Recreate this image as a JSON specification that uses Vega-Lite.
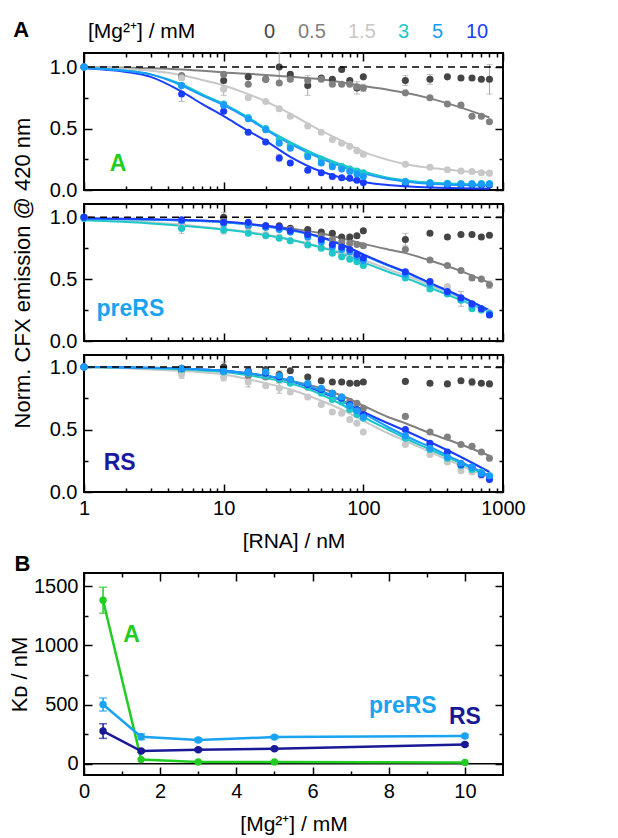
{
 "$schema": "https://vega.github.io/schema/vega-lite/v6.json",
 "padding": {"left": 7, "top": 19, "right": 5, "bottom": 2},
 "datasets": {
  "pts": [
   {"p":"A","m":"0","x":1,"y":1},{"p":"A","m":"0","x":5,"y":0.92},{"p":"A","m":"0","x":10,"y":0.89},{"p":"A","m":"0","x":15,"y":0.92},{"p":"A","m":"0","x":20,"y":0.9},{"p":"A","m":"0","x":25,"y":1.0,"e":0.12},{"p":"A","m":"0","x":30,"y":0.94},{"p":"A","m":"0","x":40,"y":0.85,"e":0.08},{"p":"A","m":"0","x":50,"y":0.91},{"p":"A","m":"0","x":60,"y":0.9},{"p":"A","m":"0","x":70,"y":0.98},{"p":"A","m":"0","x":80,"y":0.89},{"p":"A","m":"0","x":90,"y":0.83,"e":0.05},{"p":"A","m":"0","x":100,"y":0.92},{"p":"A","m":"0","x":200,"y":0.89,"e":0.04},{"p":"A","m":"0","x":300,"y":0.9,"e":0.04},{"p":"A","m":"0","x":400,"y":0.92},{"p":"A","m":"0","x":500,"y":0.91},{"p":"A","m":"0","x":600,"y":0.91},{"p":"A","m":"0","x":700,"y":0.9},{"p":"A","m":"0","x":800,"y":0.9,"e":0.12},
   {"p":"A","m":"0.5","x":1,"y":1},{"p":"A","m":"0.5","x":5,"y":0.93},{"p":"A","m":"0.5","x":10,"y":0.94},{"p":"A","m":"0.5","x":15,"y":0.86},{"p":"A","m":"0.5","x":20,"y":0.9},{"p":"A","m":"0.5","x":25,"y":0.87},{"p":"A","m":"0.5","x":30,"y":0.9},{"p":"A","m":"0.5","x":40,"y":0.89},{"p":"A","m":"0.5","x":50,"y":0.9},{"p":"A","m":"0.5","x":60,"y":0.86},{"p":"A","m":"0.5","x":70,"y":0.86},{"p":"A","m":"0.5","x":80,"y":0.86},{"p":"A","m":"0.5","x":90,"y":0.84},{"p":"A","m":"0.5","x":100,"y":0.83,"e":0.03},{"p":"A","m":"0.5","x":200,"y":0.79},{"p":"A","m":"0.5","x":300,"y":0.75},{"p":"A","m":"0.5","x":400,"y":0.7},{"p":"A","m":"0.5","x":500,"y":0.69},{"p":"A","m":"0.5","x":600,"y":0.6},{"p":"A","m":"0.5","x":700,"y":0.6},{"p":"A","m":"0.5","x":800,"y":0.555},
   {"p":"A","m":"1.5","x":1,"y":1},{"p":"A","m":"1.5","x":5,"y":0.91},{"p":"A","m":"1.5","x":10,"y":0.82,"e":0.05},{"p":"A","m":"1.5","x":15,"y":0.75},{"p":"A","m":"1.5","x":20,"y":0.72},{"p":"A","m":"1.5","x":25,"y":0.66},{"p":"A","m":"1.5","x":30,"y":0.6},{"p":"A","m":"1.5","x":40,"y":0.52},{"p":"A","m":"1.5","x":50,"y":0.47},{"p":"A","m":"1.5","x":60,"y":0.41},{"p":"A","m":"1.5","x":70,"y":0.38},{"p":"A","m":"1.5","x":80,"y":0.355},{"p":"A","m":"1.5","x":90,"y":0.32},{"p":"A","m":"1.5","x":100,"y":0.29},{"p":"A","m":"1.5","x":200,"y":0.21},{"p":"A","m":"1.5","x":300,"y":0.185},{"p":"A","m":"1.5","x":400,"y":0.165},{"p":"A","m":"1.5","x":500,"y":0.155},{"p":"A","m":"1.5","x":600,"y":0.15},{"p":"A","m":"1.5","x":700,"y":0.14},{"p":"A","m":"1.5","x":800,"y":0.137},
   {"p":"A","m":"10","x":1,"y":1},{"p":"A","m":"10","x":5,"y":0.78,"e":0.06},{"p":"A","m":"10","x":10,"y":0.64},{"p":"A","m":"10","x":15,"y":0.47},{"p":"A","m":"10","x":20,"y":0.39},{"p":"A","m":"10","x":25,"y":0.26,"e":0.03},{"p":"A","m":"10","x":30,"y":0.22},{"p":"A","m":"10","x":40,"y":0.16},{"p":"A","m":"10","x":50,"y":0.14},{"p":"A","m":"10","x":60,"y":0.11},{"p":"A","m":"10","x":70,"y":0.1},{"p":"A","m":"10","x":80,"y":0.095},{"p":"A","m":"10","x":90,"y":0.08},{"p":"A","m":"10","x":100,"y":0.06},{"p":"A","m":"10","x":200,"y":0.05},{"p":"A","m":"10","x":300,"y":0.04},{"p":"A","m":"10","x":400,"y":0.04},{"p":"A","m":"10","x":500,"y":0.04},{"p":"A","m":"10","x":600,"y":0.04},{"p":"A","m":"10","x":700,"y":0.04},{"p":"A","m":"10","x":800,"y":0.04},
   {"p":"A","m":"3","x":1,"y":1},{"p":"A","m":"3","x":5,"y":0.85},{"p":"A","m":"3","x":10,"y":0.7},{"p":"A","m":"3","x":15,"y":0.59},{"p":"A","m":"3","x":20,"y":0.5},{"p":"A","m":"3","x":25,"y":0.41},{"p":"A","m":"3","x":30,"y":0.36},{"p":"A","m":"3","x":40,"y":0.29},{"p":"A","m":"3","x":50,"y":0.25},{"p":"A","m":"3","x":60,"y":0.21},{"p":"A","m":"3","x":70,"y":0.19},{"p":"A","m":"3","x":80,"y":0.17},{"p":"A","m":"3","x":90,"y":0.155},{"p":"A","m":"3","x":100,"y":0.14},{"p":"A","m":"3","x":200,"y":0.07},{"p":"A","m":"3","x":300,"y":0.06},{"p":"A","m":"3","x":400,"y":0.055},{"p":"A","m":"3","x":500,"y":0.05},{"p":"A","m":"3","x":600,"y":0.05},{"p":"A","m":"3","x":700,"y":0.05},{"p":"A","m":"3","x":800,"y":0.05},
   {"p":"A","m":"5","x":1,"y":1},{"p":"A","m":"5","x":5,"y":0.85},{"p":"A","m":"5","x":10,"y":0.69},{"p":"A","m":"5","x":15,"y":0.58},{"p":"A","m":"5","x":20,"y":0.49},{"p":"A","m":"5","x":25,"y":0.38},{"p":"A","m":"5","x":30,"y":0.34},{"p":"A","m":"5","x":40,"y":0.27},{"p":"A","m":"5","x":50,"y":0.22},{"p":"A","m":"5","x":60,"y":0.19},{"p":"A","m":"5","x":70,"y":0.17},{"p":"A","m":"5","x":80,"y":0.15},{"p":"A","m":"5","x":90,"y":0.13},{"p":"A","m":"5","x":100,"y":0.11},{"p":"A","m":"5","x":200,"y":0.065},{"p":"A","m":"5","x":300,"y":0.055},{"p":"A","m":"5","x":400,"y":0.05},{"p":"A","m":"5","x":500,"y":0.05},{"p":"A","m":"5","x":600,"y":0.05},{"p":"A","m":"5","x":700,"y":0.05},{"p":"A","m":"5","x":800,"y":0.05},

   {"p":"P","m":"0","x":1,"y":1},{"p":"P","m":"0","x":5,"y":0.92,"e":0.05},{"p":"P","m":"0","x":10,"y":1.0,"e":0.04},{"p":"P","m":"0","x":15,"y":0.95},{"p":"P","m":"0","x":20,"y":0.93},{"p":"P","m":"0","x":25,"y":0.93},{"p":"P","m":"0","x":30,"y":0.91},{"p":"P","m":"0","x":40,"y":0.9},{"p":"P","m":"0","x":50,"y":0.88},{"p":"P","m":"0","x":60,"y":0.87},{"p":"P","m":"0","x":70,"y":0.84},{"p":"P","m":"0","x":80,"y":0.84},{"p":"P","m":"0","x":90,"y":0.85},{"p":"P","m":"0","x":100,"y":0.89},{"p":"P","m":"0","x":200,"y":0.82,"e":0.05},{"p":"P","m":"0","x":300,"y":0.87},{"p":"P","m":"0","x":400,"y":0.84},{"p":"P","m":"0","x":500,"y":0.86},{"p":"P","m":"0","x":600,"y":0.86},{"p":"P","m":"0","x":700,"y":0.84},{"p":"P","m":"0","x":800,"y":0.855},
   {"p":"P","m":"0.5","x":1,"y":1},{"p":"P","m":"0.5","x":5,"y":0.94},{"p":"P","m":"0.5","x":10,"y":0.97},{"p":"P","m":"0.5","x":15,"y":0.93},{"p":"P","m":"0.5","x":20,"y":0.92},{"p":"P","m":"0.5","x":25,"y":0.91},{"p":"P","m":"0.5","x":30,"y":0.9},{"p":"P","m":"0.5","x":40,"y":0.86,"e":0.03},{"p":"P","m":"0.5","x":50,"y":0.85},{"p":"P","m":"0.5","x":60,"y":0.82},{"p":"P","m":"0.5","x":70,"y":0.8},{"p":"P","m":"0.5","x":80,"y":0.79},{"p":"P","m":"0.5","x":90,"y":0.78},{"p":"P","m":"0.5","x":100,"y":0.77},{"p":"P","m":"0.5","x":200,"y":0.74},{"p":"P","m":"0.5","x":300,"y":0.655},{"p":"P","m":"0.5","x":400,"y":0.61},{"p":"P","m":"0.5","x":500,"y":0.57},{"p":"P","m":"0.5","x":600,"y":0.51},{"p":"P","m":"0.5","x":700,"y":0.5},{"p":"P","m":"0.5","x":800,"y":0.455,"e":0.03},
   {"p":"P","m":"1.5","x":1,"y":1},{"p":"P","m":"1.5","x":5,"y":0.93},{"p":"P","m":"1.5","x":10,"y":0.91},{"p":"P","m":"1.5","x":15,"y":0.88},{"p":"P","m":"1.5","x":20,"y":0.86},{"p":"P","m":"1.5","x":25,"y":0.84},{"p":"P","m":"1.5","x":30,"y":0.81},{"p":"P","m":"1.5","x":40,"y":0.79},{"p":"P","m":"1.5","x":50,"y":0.76},{"p":"P","m":"1.5","x":60,"y":0.72},{"p":"P","m":"1.5","x":70,"y":0.7},{"p":"P","m":"1.5","x":80,"y":0.68},{"p":"P","m":"1.5","x":90,"y":0.66},{"p":"P","m":"1.5","x":100,"y":0.63},{"p":"P","m":"1.5","x":200,"y":0.52},{"p":"P","m":"1.5","x":300,"y":0.44},{"p":"P","m":"1.5","x":400,"y":0.44},{"p":"P","m":"1.5","x":500,"y":0.33},{"p":"P","m":"1.5","x":600,"y":0.27},{"p":"P","m":"1.5","x":700,"y":0.25},{"p":"P","m":"1.5","x":800,"y":0.23},
   {"p":"P","m":"3","x":1,"y":0.99},{"p":"P","m":"3","x":5,"y":0.91},{"p":"P","m":"3","x":10,"y":0.895,"e":0.03},{"p":"P","m":"3","x":15,"y":0.87},{"p":"P","m":"3","x":20,"y":0.85},{"p":"P","m":"3","x":25,"y":0.83},{"p":"P","m":"3","x":30,"y":0.81},{"p":"P","m":"3","x":40,"y":0.775},{"p":"P","m":"3","x":50,"y":0.75},{"p":"P","m":"3","x":60,"y":0.71},{"p":"P","m":"3","x":70,"y":0.68},{"p":"P","m":"3","x":80,"y":0.66},{"p":"P","m":"3","x":90,"y":0.64},{"p":"P","m":"3","x":100,"y":0.61},{"p":"P","m":"3","x":200,"y":0.51},{"p":"P","m":"3","x":300,"y":0.42},{"p":"P","m":"3","x":400,"y":0.38},{"p":"P","m":"3","x":500,"y":0.33},{"p":"P","m":"3","x":600,"y":0.26},{"p":"P","m":"3","x":700,"y":0.25},{"p":"P","m":"3","x":800,"y":0.22},
   {"p":"P","m":"5","x":1,"y":1},{"p":"P","m":"5","x":5,"y":0.97},{"p":"P","m":"5","x":10,"y":0.95},{"p":"P","m":"5","x":15,"y":0.94},{"p":"P","m":"5","x":20,"y":0.92},{"p":"P","m":"5","x":25,"y":0.9},{"p":"P","m":"5","x":30,"y":0.88},{"p":"P","m":"5","x":40,"y":0.84},{"p":"P","m":"5","x":50,"y":0.8},{"p":"P","m":"5","x":60,"y":0.76},{"p":"P","m":"5","x":70,"y":0.74},{"p":"P","m":"5","x":80,"y":0.72},{"p":"P","m":"5","x":90,"y":0.68},{"p":"P","m":"5","x":100,"y":0.65},{"p":"P","m":"5","x":200,"y":0.54},{"p":"P","m":"5","x":300,"y":0.46},{"p":"P","m":"5","x":400,"y":0.39},{"p":"P","m":"5","x":500,"y":0.34,"e":0.06},{"p":"P","m":"5","x":600,"y":0.29},{"p":"P","m":"5","x":700,"y":0.26},{"p":"P","m":"5","x":800,"y":0.22},
   {"p":"P","m":"10","x":1,"y":1},{"p":"P","m":"10","x":5,"y":0.98},{"p":"P","m":"10","x":10,"y":0.96},{"p":"P","m":"10","x":15,"y":0.96},{"p":"P","m":"10","x":20,"y":0.93},{"p":"P","m":"10","x":25,"y":0.92},{"p":"P","m":"10","x":30,"y":0.89},{"p":"P","m":"10","x":40,"y":0.86},{"p":"P","m":"10","x":50,"y":0.82},{"p":"P","m":"10","x":60,"y":0.78},{"p":"P","m":"10","x":70,"y":0.76},{"p":"P","m":"10","x":80,"y":0.74},{"p":"P","m":"10","x":90,"y":0.7},{"p":"P","m":"10","x":100,"y":0.67},{"p":"P","m":"10","x":200,"y":0.56},{"p":"P","m":"10","x":300,"y":0.48},{"p":"P","m":"10","x":400,"y":0.4},{"p":"P","m":"10","x":500,"y":0.35},{"p":"P","m":"10","x":600,"y":0.3},{"p":"P","m":"10","x":700,"y":0.26},{"p":"P","m":"10","x":800,"y":0.21},

   {"p":"R","m":"0","x":1,"y":1},{"p":"R","m":"0","x":5,"y":0.97},{"p":"R","m":"0","x":10,"y":1.0,"e":0.04},{"p":"R","m":"0","x":15,"y":0.97},{"p":"R","m":"0","x":20,"y":0.98},{"p":"R","m":"0","x":25,"y":0.94,"e":0.03},{"p":"R","m":"0","x":30,"y":0.97},{"p":"R","m":"0","x":40,"y":0.92},{"p":"R","m":"0","x":50,"y":0.89},{"p":"R","m":"0","x":60,"y":0.88},{"p":"R","m":"0","x":70,"y":0.88},{"p":"R","m":"0","x":80,"y":0.87},{"p":"R","m":"0","x":90,"y":0.87},{"p":"R","m":"0","x":100,"y":0.88},{"p":"R","m":"0","x":200,"y":0.885},{"p":"R","m":"0","x":300,"y":0.87},{"p":"R","m":"0","x":400,"y":0.865},{"p":"R","m":"0","x":500,"y":0.89},{"p":"R","m":"0","x":600,"y":0.88,"e":0.03},{"p":"R","m":"0","x":700,"y":0.87},{"p":"R","m":"0","x":800,"y":0.865},
   {"p":"R","m":"0.5","x":1,"y":1},{"p":"R","m":"0.5","x":5,"y":0.97},{"p":"R","m":"0.5","x":10,"y":0.96},{"p":"R","m":"0.5","x":15,"y":0.93},{"p":"R","m":"0.5","x":20,"y":0.92},{"p":"R","m":"0.5","x":25,"y":0.9},{"p":"R","m":"0.5","x":30,"y":0.88},{"p":"R","m":"0.5","x":40,"y":0.84},{"p":"R","m":"0.5","x":50,"y":0.82},{"p":"R","m":"0.5","x":60,"y":0.79},{"p":"R","m":"0.5","x":70,"y":0.76},{"p":"R","m":"0.5","x":80,"y":0.725},{"p":"R","m":"0.5","x":90,"y":0.71},{"p":"R","m":"0.5","x":100,"y":0.67},{"p":"R","m":"0.5","x":200,"y":0.605},{"p":"R","m":"0.5","x":300,"y":0.48},{"p":"R","m":"0.5","x":400,"y":0.44},{"p":"R","m":"0.5","x":500,"y":0.38},{"p":"R","m":"0.5","x":600,"y":0.365},{"p":"R","m":"0.5","x":700,"y":0.32},{"p":"R","m":"0.5","x":800,"y":0.27},
   {"p":"R","m":"1.5","x":1,"y":1},{"p":"R","m":"1.5","x":5,"y":0.94,"e":0.03},{"p":"R","m":"1.5","x":10,"y":0.92,"e":0.03},{"p":"R","m":"1.5","x":15,"y":0.88,"e":0.04},{"p":"R","m":"1.5","x":20,"y":0.85},{"p":"R","m":"1.5","x":25,"y":0.83,"e":0.04},{"p":"R","m":"1.5","x":30,"y":0.8},{"p":"R","m":"1.5","x":40,"y":0.76},{"p":"R","m":"1.5","x":50,"y":0.7},{"p":"R","m":"1.5","x":60,"y":0.64},{"p":"R","m":"1.5","x":70,"y":0.63},{"p":"R","m":"1.5","x":80,"y":0.58},{"p":"R","m":"1.5","x":90,"y":0.55},{"p":"R","m":"1.5","x":100,"y":0.48},{"p":"R","m":"1.5","x":200,"y":0.38},{"p":"R","m":"1.5","x":300,"y":0.3},{"p":"R","m":"1.5","x":400,"y":0.24},{"p":"R","m":"1.5","x":500,"y":0.17},{"p":"R","m":"1.5","x":600,"y":0.16},{"p":"R","m":"1.5","x":700,"y":0.13},{"p":"R","m":"1.5","x":800,"y":0.11},
   {"p":"R","m":"3","x":1,"y":1},{"p":"R","m":"3","x":5,"y":0.98},{"p":"R","m":"3","x":10,"y":0.96},{"p":"R","m":"3","x":15,"y":0.95},{"p":"R","m":"3","x":20,"y":0.93},{"p":"R","m":"3","x":25,"y":0.9},{"p":"R","m":"3","x":30,"y":0.87},{"p":"R","m":"3","x":40,"y":0.84},{"p":"R","m":"3","x":50,"y":0.79},{"p":"R","m":"3","x":60,"y":0.74},{"p":"R","m":"3","x":70,"y":0.72},{"p":"R","m":"3","x":80,"y":0.66},{"p":"R","m":"3","x":90,"y":0.62},{"p":"R","m":"3","x":100,"y":0.59},{"p":"R","m":"3","x":200,"y":0.43},{"p":"R","m":"3","x":300,"y":0.34},{"p":"R","m":"3","x":400,"y":0.27},{"p":"R","m":"3","x":500,"y":0.21},{"p":"R","m":"3","x":600,"y":0.18},{"p":"R","m":"3","x":700,"y":0.16},{"p":"R","m":"3","x":800,"y":0.13},
   {"p":"R","m":"10","x":1,"y":1},{"p":"R","m":"10","x":5,"y":0.99},{"p":"R","m":"10","x":10,"y":0.97},{"p":"R","m":"10","x":15,"y":0.96},{"p":"R","m":"10","x":20,"y":0.95},{"p":"R","m":"10","x":25,"y":0.92},{"p":"R","m":"10","x":30,"y":0.9},{"p":"R","m":"10","x":40,"y":0.86},{"p":"R","m":"10","x":50,"y":0.82},{"p":"R","m":"10","x":60,"y":0.79},{"p":"R","m":"10","x":70,"y":0.75},{"p":"R","m":"10","x":80,"y":0.7},{"p":"R","m":"10","x":90,"y":0.66},{"p":"R","m":"10","x":100,"y":0.62},{"p":"R","m":"10","x":200,"y":0.5},{"p":"R","m":"10","x":300,"y":0.39},{"p":"R","m":"10","x":400,"y":0.32},{"p":"R","m":"10","x":500,"y":0.22},{"p":"R","m":"10","x":600,"y":0.2},{"p":"R","m":"10","x":700,"y":0.14},{"p":"R","m":"10","x":800,"y":0.1},
   {"p":"R","m":"5","x":1,"y":1},{"p":"R","m":"5","x":5,"y":0.99},{"p":"R","m":"5","x":10,"y":0.97},{"p":"R","m":"5","x":15,"y":0.96},{"p":"R","m":"5","x":20,"y":0.96},{"p":"R","m":"5","x":25,"y":0.93},{"p":"R","m":"5","x":30,"y":0.9},{"p":"R","m":"5","x":40,"y":0.87},{"p":"R","m":"5","x":50,"y":0.83},{"p":"R","m":"5","x":60,"y":0.79},{"p":"R","m":"5","x":70,"y":0.76},{"p":"R","m":"5","x":80,"y":0.69},{"p":"R","m":"5","x":90,"y":0.65},{"p":"R","m":"5","x":100,"y":0.6},{"p":"R","m":"5","x":200,"y":0.45},{"p":"R","m":"5","x":300,"y":0.35},{"p":"R","m":"5","x":400,"y":0.28},{"p":"R","m":"5","x":500,"y":0.23},{"p":"R","m":"5","x":600,"y":0.2},{"p":"R","m":"5","x":700,"y":0.15},{"p":"R","m":"5","x":800,"y":0.13}
  ],
  "fits": [
   {"p":"A","m":"0.5","x":1,"y":1},{"p":"A","m":"0.5","x":2,"y":0.995},{"p":"A","m":"0.5","x":3,"y":0.99},{"p":"A","m":"0.5","x":5,"y":0.98},{"p":"A","m":"0.5","x":7,"y":0.97},{"p":"A","m":"0.5","x":10,"y":0.955},{"p":"A","m":"0.5","x":15,"y":0.945},{"p":"A","m":"0.5","x":20,"y":0.935},{"p":"A","m":"0.5","x":30,"y":0.92},{"p":"A","m":"0.5","x":50,"y":0.9},{"p":"A","m":"0.5","x":70,"y":0.875},{"p":"A","m":"0.5","x":100,"y":0.845},{"p":"A","m":"0.5","x":150,"y":0.815},{"p":"A","m":"0.5","x":200,"y":0.79},{"p":"A","m":"0.5","x":300,"y":0.745},{"p":"A","m":"0.5","x":500,"y":0.67},{"p":"A","m":"0.5","x":800,"y":0.59},
   {"p":"A","m":"1.5","x":1,"y":1},{"p":"A","m":"1.5","x":2,"y":0.985},{"p":"A","m":"1.5","x":3,"y":0.97},{"p":"A","m":"1.5","x":5,"y":0.935},{"p":"A","m":"1.5","x":7,"y":0.895},{"p":"A","m":"1.5","x":10,"y":0.85},{"p":"A","m":"1.5","x":15,"y":0.78},{"p":"A","m":"1.5","x":20,"y":0.72},{"p":"A","m":"1.5","x":30,"y":0.62},{"p":"A","m":"1.5","x":50,"y":0.48},{"p":"A","m":"1.5","x":70,"y":0.4},{"p":"A","m":"1.5","x":100,"y":0.31},{"p":"A","m":"1.5","x":150,"y":0.245},{"p":"A","m":"1.5","x":200,"y":0.21},{"p":"A","m":"1.5","x":300,"y":0.18},{"p":"A","m":"1.5","x":500,"y":0.155},{"p":"A","m":"1.5","x":800,"y":0.14},
   {"p":"A","m":"10","x":1,"y":0.99},{"p":"A","m":"10","x":2,"y":0.96},{"p":"A","m":"10","x":3,"y":0.92},{"p":"A","m":"10","x":5,"y":0.8},{"p":"A","m":"10","x":7,"y":0.7},{"p":"A","m":"10","x":10,"y":0.6},{"p":"A","m":"10","x":15,"y":0.48},{"p":"A","m":"10","x":20,"y":0.4},{"p":"A","m":"10","x":30,"y":0.27},{"p":"A","m":"10","x":50,"y":0.15},{"p":"A","m":"10","x":70,"y":0.1},{"p":"A","m":"10","x":100,"y":0.065},{"p":"A","m":"10","x":150,"y":0.04},{"p":"A","m":"10","x":200,"y":0.03},{"p":"A","m":"10","x":300,"y":0.02},{"p":"A","m":"10","x":500,"y":0.015},{"p":"A","m":"10","x":800,"y":0.01},
   {"p":"A","m":"3","x":1,"y":0.995},{"p":"A","m":"3","x":2,"y":0.97},{"p":"A","m":"3","x":3,"y":0.94},{"p":"A","m":"3","x":5,"y":0.86},{"p":"A","m":"3","x":7,"y":0.78},{"p":"A","m":"3","x":10,"y":0.7},{"p":"A","m":"3","x":15,"y":0.59},{"p":"A","m":"3","x":20,"y":0.5},{"p":"A","m":"3","x":30,"y":0.39},{"p":"A","m":"3","x":50,"y":0.27},{"p":"A","m":"3","x":70,"y":0.205},{"p":"A","m":"3","x":100,"y":0.15},{"p":"A","m":"3","x":150,"y":0.1},{"p":"A","m":"3","x":200,"y":0.08},{"p":"A","m":"3","x":300,"y":0.06},{"p":"A","m":"3","x":500,"y":0.05},{"p":"A","m":"3","x":800,"y":0.04},
   {"p":"A","m":"5","x":1,"y":0.995},{"p":"A","m":"5","x":2,"y":0.97},{"p":"A","m":"5","x":3,"y":0.94},{"p":"A","m":"5","x":5,"y":0.85},{"p":"A","m":"5","x":7,"y":0.77},{"p":"A","m":"5","x":10,"y":0.69},{"p":"A","m":"5","x":15,"y":0.58},{"p":"A","m":"5","x":20,"y":0.49},{"p":"A","m":"5","x":30,"y":0.375},{"p":"A","m":"5","x":50,"y":0.255},{"p":"A","m":"5","x":70,"y":0.19},{"p":"A","m":"5","x":100,"y":0.135},{"p":"A","m":"5","x":150,"y":0.09},{"p":"A","m":"5","x":200,"y":0.07},{"p":"A","m":"5","x":300,"y":0.05},{"p":"A","m":"5","x":500,"y":0.04},{"p":"A","m":"5","x":800,"y":0.035},

   {"p":"P","m":"0.5","x":1,"y":0.99},{"p":"P","m":"0.5","x":3,"y":0.98},{"p":"P","m":"0.5","x":10,"y":0.96},{"p":"P","m":"0.5","x":20,"y":0.93},{"p":"P","m":"0.5","x":30,"y":0.91},{"p":"P","m":"0.5","x":50,"y":0.87},{"p":"P","m":"0.5","x":70,"y":0.83},{"p":"P","m":"0.5","x":100,"y":0.785},{"p":"P","m":"0.5","x":150,"y":0.74},{"p":"P","m":"0.5","x":200,"y":0.71},{"p":"P","m":"0.5","x":300,"y":0.65},{"p":"P","m":"0.5","x":500,"y":0.565},{"p":"P","m":"0.5","x":800,"y":0.47},
   {"p":"P","m":"1.5","x":1,"y":0.98},{"p":"P","m":"1.5","x":3,"y":0.96},{"p":"P","m":"1.5","x":10,"y":0.905},{"p":"P","m":"1.5","x":20,"y":0.86},{"p":"P","m":"1.5","x":30,"y":0.82},{"p":"P","m":"1.5","x":50,"y":0.76},{"p":"P","m":"1.5","x":70,"y":0.715},{"p":"P","m":"1.5","x":100,"y":0.655},{"p":"P","m":"1.5","x":150,"y":0.58},{"p":"P","m":"1.5","x":200,"y":0.53},{"p":"P","m":"1.5","x":300,"y":0.45},{"p":"P","m":"1.5","x":500,"y":0.35},{"p":"P","m":"1.5","x":800,"y":0.25},
   {"p":"P","m":"3","x":1,"y":0.975},{"p":"P","m":"3","x":3,"y":0.95},{"p":"P","m":"3","x":10,"y":0.9},{"p":"P","m":"3","x":20,"y":0.855},{"p":"P","m":"3","x":30,"y":0.82},{"p":"P","m":"3","x":50,"y":0.755},{"p":"P","m":"3","x":70,"y":0.705},{"p":"P","m":"3","x":100,"y":0.635},{"p":"P","m":"3","x":150,"y":0.56},{"p":"P","m":"3","x":200,"y":0.51},{"p":"P","m":"3","x":300,"y":0.43},{"p":"P","m":"3","x":500,"y":0.33},{"p":"P","m":"3","x":800,"y":0.235},
   {"p":"P","m":"5","x":1,"y":0.99},{"p":"P","m":"5","x":3,"y":0.98},{"p":"P","m":"5","x":10,"y":0.96},{"p":"P","m":"5","x":20,"y":0.925},{"p":"P","m":"5","x":30,"y":0.895},{"p":"P","m":"5","x":50,"y":0.835},{"p":"P","m":"5","x":70,"y":0.775},{"p":"P","m":"5","x":100,"y":0.695},{"p":"P","m":"5","x":150,"y":0.61},{"p":"P","m":"5","x":200,"y":0.555},{"p":"P","m":"5","x":300,"y":0.465},{"p":"P","m":"5","x":500,"y":0.355},{"p":"P","m":"5","x":800,"y":0.25},
   {"p":"P","m":"10","x":1,"y":0.99},{"p":"P","m":"10","x":3,"y":0.985},{"p":"P","m":"10","x":10,"y":0.965},{"p":"P","m":"10","x":20,"y":0.93},{"p":"P","m":"10","x":30,"y":0.9},{"p":"P","m":"10","x":50,"y":0.84},{"p":"P","m":"10","x":70,"y":0.78},{"p":"P","m":"10","x":100,"y":0.7},{"p":"P","m":"10","x":150,"y":0.615},{"p":"P","m":"10","x":200,"y":0.56},{"p":"P","m":"10","x":300,"y":0.47},{"p":"P","m":"10","x":500,"y":0.36},{"p":"P","m":"10","x":800,"y":0.245},

   {"p":"R","m":"0.5","x":1,"y":1},{"p":"R","m":"0.5","x":3,"y":0.99},{"p":"R","m":"0.5","x":10,"y":0.97},{"p":"R","m":"0.5","x":20,"y":0.925},{"p":"R","m":"0.5","x":30,"y":0.89},{"p":"R","m":"0.5","x":50,"y":0.83},{"p":"R","m":"0.5","x":70,"y":0.77},{"p":"R","m":"0.5","x":100,"y":0.69},{"p":"R","m":"0.5","x":150,"y":0.6},{"p":"R","m":"0.5","x":200,"y":0.55},{"p":"R","m":"0.5","x":300,"y":0.47},{"p":"R","m":"0.5","x":500,"y":0.38},{"p":"R","m":"0.5","x":800,"y":0.29},
   {"p":"R","m":"1.5","x":1,"y":1},{"p":"R","m":"1.5","x":3,"y":0.98},{"p":"R","m":"1.5","x":10,"y":0.94},{"p":"R","m":"1.5","x":20,"y":0.87},{"p":"R","m":"1.5","x":30,"y":0.82},{"p":"R","m":"1.5","x":50,"y":0.73},{"p":"R","m":"1.5","x":70,"y":0.66},{"p":"R","m":"1.5","x":100,"y":0.57},{"p":"R","m":"1.5","x":150,"y":0.47},{"p":"R","m":"1.5","x":200,"y":0.41},{"p":"R","m":"1.5","x":300,"y":0.32},{"p":"R","m":"1.5","x":500,"y":0.21},{"p":"R","m":"1.5","x":800,"y":0.12},
   {"p":"R","m":"3","x":1,"y":1},{"p":"R","m":"3","x":3,"y":0.99},{"p":"R","m":"3","x":10,"y":0.96},{"p":"R","m":"3","x":20,"y":0.91},{"p":"R","m":"3","x":30,"y":0.87},{"p":"R","m":"3","x":50,"y":0.78},{"p":"R","m":"3","x":70,"y":0.7},{"p":"R","m":"3","x":100,"y":0.6},{"p":"R","m":"3","x":150,"y":0.5},{"p":"R","m":"3","x":200,"y":0.43},{"p":"R","m":"3","x":300,"y":0.34},{"p":"R","m":"3","x":500,"y":0.23},{"p":"R","m":"3","x":800,"y":0.125},
   {"p":"R","m":"10","x":1,"y":1},{"p":"R","m":"10","x":3,"y":0.995},{"p":"R","m":"10","x":10,"y":0.97},{"p":"R","m":"10","x":20,"y":0.93},{"p":"R","m":"10","x":30,"y":0.89},{"p":"R","m":"10","x":50,"y":0.8},{"p":"R","m":"10","x":70,"y":0.73},{"p":"R","m":"10","x":100,"y":0.64},{"p":"R","m":"10","x":150,"y":0.55},{"p":"R","m":"10","x":200,"y":0.49},{"p":"R","m":"10","x":300,"y":0.4},{"p":"R","m":"10","x":500,"y":0.28},{"p":"R","m":"10","x":800,"y":0.16},
   {"p":"R","m":"5","x":1,"y":1},{"p":"R","m":"5","x":3,"y":0.995},{"p":"R","m":"5","x":10,"y":0.97},{"p":"R","m":"5","x":20,"y":0.93},{"p":"R","m":"5","x":30,"y":0.89},{"p":"R","m":"5","x":50,"y":0.81},{"p":"R","m":"5","x":70,"y":0.73},{"p":"R","m":"5","x":100,"y":0.63},{"p":"R","m":"5","x":150,"y":0.52},{"p":"R","m":"5","x":200,"y":0.45},{"p":"R","m":"5","x":300,"y":0.36},{"p":"R","m":"5","x":500,"y":0.24},{"p":"R","m":"5","x":800,"y":0.13}
  ],
  "kd": [
   {"c":"A","mg":0.5,"kd":1380,"e":110},{"c":"A","mg":1.5,"kd":35},{"c":"A","mg":3,"kd":15},{"c":"A","mg":5,"kd":15},{"c":"A","mg":10,"kd":10},
   {"c":"preRS","mg":0.5,"kd":500,"e":55},{"c":"preRS","mg":1.5,"kd":228,"e":25},{"c":"preRS","mg":3,"kd":200,"e":15},{"c":"preRS","mg":5,"kd":225,"e":12},{"c":"preRS","mg":10,"kd":234,"e":12},
   {"c":"RS","mg":0.5,"kd":276,"e":62},{"c":"RS","mg":1.5,"kd":107,"e":10},{"c":"RS","mg":3,"kd":118,"e":10},{"c":"RS","mg":5,"kd":127,"e":10},{"c":"RS","mg":10,"kd":163,"e":10}
  ]
 },
 "vconcat": [
  {
   "title": {"text": "A", "anchor": "start", "frame": "bounds", "fontSize": 22, "fontWeight": "bold", "color": "#000", "offset": 10, "dy": 30, "dx": 3},
   "bounds": "flush",
   "spacing": 14,
   "vconcat": [
    {
     "width": 419, "height": 137,
     "layer": [
      {"data": {"name": "pts"}, "transform": [{"filter": "datum.p == 'A' && datum.e > 0"}],
       "mark": {"type": "errorbar", "ticks": {"size": 6}, "color": "#a8a8a8", "thickness": 1},
       "encoding": {"x": {"field": "x", "type": "quantitative", "scale": {"type": "log", "domain": [1, 1000]}, "axis": null},
                    "y": {"field": "y", "type": "quantitative", "scale": {"domain": [0, 1.114], "nice": false}, "axis": null},
                    "yError": {"field": "e"}}},
      {"data": {"name": "fits"}, "transform": [{"filter": "datum.p == 'A'"}],
       "mark": {"type": "line", "strokeWidth": 2, "interpolate": "monotone"},
       "encoding": {"x": {"field": "x", "type": "quantitative", "scale": {"type": "log", "domain": [1, 1000]},
                          "axis": {"orient": "top", "values": [1,2,3,4,5,6,7,8,9,10,20,30,40,50,60,70,80,90,100,200,300,400,500,600,700,800,900,1000], "tickSize": {"condition": {"test": "indexof([1,10,100,1000], datum.value) >= 0", "value": -8}, "value": -4}, "labels": false, "title": null}},
                    "y": {"field": "y", "type": "quantitative", "scale": {"domain": [0, 1.114], "nice": false},
                          "axis": {"orient": "right", "values": [0, 0.25, 0.5, 0.75, 1], "tickSize": {"condition": {"test": "datum.value == 0.25 || datum.value == 0.75", "value": -4}, "value": -8}, "labels": false, "title": null}},
                    "color": {"field": "m", "type": "nominal", "scale": {"domain": ["0","0.5","1.5","3","5","10"], "range": ["#454545","#808080","#c8c8c8","#1fc8c8","#1a9cff","#1a3cff"]},
                              "legend": {"orient": "none", "legendX": 4, "legendY": -31, "direction": "horizontal", "gridAlign": "none", "title": "[Mg²⁺] / mM", "titleOrient": "left", "titleFontSize": 21, "titleFontWeight": "normal", "titleColor": "#000", "titlePadding": 48, "titleBaseline": "middle", "labelFontSize": 20, "labelColor": {"expr": "datum.value == '0' ? '#454545' : datum.value == '0.5' ? '#808080' : datum.value == '1.5' ? '#c8c8c8' : datum.value == '3' ? '#1fc8c8' : datum.value == '5' ? '#1a9cff' : '#1a3cff'"}, "symbolSize": 0, "symbolOpacity": 0, "symbolStrokeWidth": 0, "labelOffset": 0, "columnPadding": 2}}}},
      {"data": {"name": "pts"}, "transform": [{"filter": "datum.p == 'A'"}],
       "mark": {"type": "circle", "size": 50, "opacity": 1},
       "encoding": {"x": {"field": "x", "type": "quantitative", "scale": {"type": "log", "domain": [1, 1000]},
                          "axis": {"orient": "bottom", "values": [1,2,3,4,5,6,7,8,9,10,20,30,40,50,60,70,80,90,100,200,300,400,500,600,700,800,900,1000], "tickSize": {"condition": {"test": "indexof([1,10,100,1000], datum.value) >= 0", "value": -8}, "value": -4}, "labels": false, "title": null}},
                    "y": {"field": "y", "type": "quantitative", "scale": {"domain": [0, 1.114], "nice": false},
                          "axis": {"orient": "left", "values": [0, 0.25, 0.5, 0.75, 1], "tickSize": {"condition": {"test": "datum.value == 0.25 || datum.value == 0.75", "value": -4}, "value": -8}, "labelExpr": "(datum.value == 0.25 || datum.value == 0.75) ? '' : format(datum.value, '.1f')", "labelPadding": 15, "title": null}},
                    "color": {"field": "m", "type": "nominal", "scale": {"domain": ["0","0.5","1.5","3","5","10"], "range": ["#454545","#808080","#c8c8c8","#1fc8c8","#1a9cff","#1a3cff"]}}}},
      {"data": {"values": [{}]}, "mark": {"type": "rule", "strokeDash": [7, 5], "color": "#000", "strokeWidth": 1.5},
       "encoding": {"y": {"datum": 1, "type": "quantitative", "scale": {"domain": [0, 1.114], "nice": false}, "axis": null}}},
      {"data": {"values": [{"t": "A", "x": 1.75, "y": 0.21}]}, "mark": {"type": "text", "fontSize": 23, "fontWeight": "bold", "color": "#22cc22"},
       "encoding": {"x": {"field": "x", "type": "quantitative", "scale": {"type": "log", "domain": [1, 1000]}, "axis": null},
                    "y": {"field": "y", "type": "quantitative", "scale": {"domain": [0, 1.114], "nice": false}, "axis": null},
                    "text": {"field": "t"}}}
     ],
     "resolve": {"axis": {"x": "independent", "y": "independent"}}
    },
    {
     "width": 419, "height": 137,
     "layer": [
      {"data": {"name": "pts"}, "transform": [{"filter": "datum.p == 'P' && datum.e > 0"}],
       "mark": {"type": "errorbar", "ticks": {"size": 6}, "color": "#a8a8a8", "thickness": 1},
       "encoding": {"x": {"field": "x", "type": "quantitative", "scale": {"type": "log", "domain": [1, 1000]}, "axis": null},
                    "y": {"field": "y", "type": "quantitative", "scale": {"domain": [0, 1.107], "nice": false}, "axis": null},
                    "yError": {"field": "e"}}},
      {"data": {"name": "fits"}, "transform": [{"filter": "datum.p == 'P'"}],
       "mark": {"type": "line", "strokeWidth": 2, "interpolate": "monotone"},
       "encoding": {"x": {"field": "x", "type": "quantitative", "scale": {"type": "log", "domain": [1, 1000]},
                          "axis": {"orient": "top", "values": [1,2,3,4,5,6,7,8,9,10,20,30,40,50,60,70,80,90,100,200,300,400,500,600,700,800,900,1000], "tickSize": {"condition": {"test": "indexof([1,10,100,1000], datum.value) >= 0", "value": -8}, "value": -4}, "labels": false, "title": null}},
                    "y": {"field": "y", "type": "quantitative", "scale": {"domain": [0, 1.107], "nice": false},
                          "axis": {"orient": "right", "values": [0, 0.25, 0.5, 0.75, 1], "tickSize": {"condition": {"test": "datum.value == 0.25 || datum.value == 0.75", "value": -4}, "value": -8}, "labels": false, "title": null}},
                    "color": {"field": "m", "type": "nominal", "scale": {"domain": ["0","0.5","1.5","3","5","10"], "range": ["#454545","#808080","#c8c8c8","#1fc8c8","#1a9cff","#1a3cff"]}}}},
      {"data": {"name": "pts"}, "transform": [{"filter": "datum.p == 'P'"}],
       "mark": {"type": "circle", "size": 50, "opacity": 1},
       "encoding": {"x": {"field": "x", "type": "quantitative", "scale": {"type": "log", "domain": [1, 1000]},
                          "axis": {"orient": "bottom", "values": [1,2,3,4,5,6,7,8,9,10,20,30,40,50,60,70,80,90,100,200,300,400,500,600,700,800,900,1000], "tickSize": {"condition": {"test": "indexof([1,10,100,1000], datum.value) >= 0", "value": -8}, "value": -4}, "labels": false, "title": null}},
                    "y": {"field": "y", "type": "quantitative", "scale": {"domain": [0, 1.107], "nice": false},
                          "axis": {"orient": "left", "values": [0, 0.25, 0.5, 0.75, 1], "tickSize": {"condition": {"test": "datum.value == 0.25 || datum.value == 0.75", "value": -4}, "value": -8}, "labelExpr": "(datum.value == 0.25 || datum.value == 0.75) ? '' : format(datum.value, '.1f')", "labelPadding": 15, "title": "Norm. CFX emission @ 420 nm", "titleFontSize": 22, "titlePadding": 15}},
                    "color": {"field": "m", "type": "nominal", "scale": {"domain": ["0","0.5","1.5","3","5","10"], "range": ["#454545","#808080","#c8c8c8","#1fc8c8","#1a9cff","#1a3cff"]}}}},
      {"data": {"values": [{}]}, "mark": {"type": "rule", "strokeDash": [7, 5], "color": "#000", "strokeWidth": 1.5},
       "encoding": {"y": {"datum": 1, "type": "quantitative", "scale": {"domain": [0, 1.107], "nice": false}, "axis": null}}},
      {"data": {"values": [{"t": "preRS", "x": 2.15, "y": 0.26}]}, "mark": {"type": "text", "fontSize": 23, "fontWeight": "bold", "color": "#1aa3f0"},
       "encoding": {"x": {"field": "x", "type": "quantitative", "scale": {"type": "log", "domain": [1, 1000]}, "axis": null},
                    "y": {"field": "y", "type": "quantitative", "scale": {"domain": [0, 1.107], "nice": false}, "axis": null},
                    "text": {"field": "t"}}}
     ],
     "resolve": {"axis": {"x": "independent", "y": "independent"}}
    },
    {
     "width": 419, "height": 137,
     "layer": [
      {"data": {"name": "pts"}, "transform": [{"filter": "datum.p == 'R' && datum.e > 0"}],
       "mark": {"type": "errorbar", "ticks": {"size": 6}, "color": "#a8a8a8", "thickness": 1},
       "encoding": {"x": {"field": "x", "type": "quantitative", "scale": {"type": "log", "domain": [1, 1000]}, "axis": null},
                    "y": {"field": "y", "type": "quantitative", "scale": {"domain": [0, 1.096], "nice": false}, "axis": null},
                    "yError": {"field": "e"}}},
      {"data": {"name": "fits"}, "transform": [{"filter": "datum.p == 'R'"}],
       "mark": {"type": "line", "strokeWidth": 2, "interpolate": "monotone"},
       "encoding": {"x": {"field": "x", "type": "quantitative", "scale": {"type": "log", "domain": [1, 1000]},
                          "axis": {"orient": "top", "values": [1,2,3,4,5,6,7,8,9,10,20,30,40,50,60,70,80,90,100,200,300,400,500,600,700,800,900,1000], "tickSize": {"condition": {"test": "indexof([1,10,100,1000], datum.value) >= 0", "value": -8}, "value": -4}, "labels": false, "title": null}},
                    "y": {"field": "y", "type": "quantitative", "scale": {"domain": [0, 1.096], "nice": false},
                          "axis": {"orient": "right", "values": [0, 0.25, 0.5, 0.75, 1], "tickSize": {"condition": {"test": "datum.value == 0.25 || datum.value == 0.75", "value": -4}, "value": -8}, "labels": false, "title": null}},
                    "color": {"field": "m", "type": "nominal", "scale": {"domain": ["0","0.5","1.5","3","5","10"], "range": ["#454545","#808080","#c8c8c8","#1fc8c8","#1a9cff","#1a3cff"]}}}},
      {"data": {"name": "pts"}, "transform": [{"filter": "datum.p == 'R'"}],
       "mark": {"type": "circle", "size": 50, "opacity": 1},
       "encoding": {"x": {"field": "x", "type": "quantitative", "scale": {"type": "log", "domain": [1, 1000]},
                          "axis": {"orient": "bottom", "values": [1,2,3,4,5,6,7,8,9,10,20,30,40,50,60,70,80,90,100,200,300,400,500,600,700,800,900,1000], "tickSize": {"condition": {"test": "indexof([1,10,100,1000], datum.value) >= 0", "value": -8}, "value": -4}, "labelExpr": "indexof([1,10,100,1000], datum.value) >= 0 ? format(datum.value, 'd') : ''", "labelPadding": 14, "title": "[RNA] / nM", "titleFontSize": 21, "titlePadding": 8}},
                    "y": {"field": "y", "type": "quantitative", "scale": {"domain": [0, 1.096], "nice": false},
                          "axis": {"orient": "left", "values": [0, 0.25, 0.5, 0.75, 1], "tickSize": {"condition": {"test": "datum.value == 0.25 || datum.value == 0.75", "value": -4}, "value": -8}, "labelExpr": "(datum.value == 0.25 || datum.value == 0.75) ? '' : format(datum.value, '.1f')", "labelPadding": 15, "title": null}},
                    "color": {"field": "m", "type": "nominal", "scale": {"domain": ["0","0.5","1.5","3","5","10"], "range": ["#454545","#808080","#c8c8c8","#1fc8c8","#1a9cff","#1a3cff"]}}}},
      {"data": {"values": [{}]}, "mark": {"type": "rule", "strokeDash": [7, 5], "color": "#000", "strokeWidth": 1.5},
       "encoding": {"y": {"datum": 1, "type": "quantitative", "scale": {"domain": [0, 1.096], "nice": false}, "axis": null}}},
      {"data": {"values": [{"t": "RS", "x": 1.8, "y": 0.23}]}, "mark": {"type": "text", "fontSize": 23, "fontWeight": "bold", "color": "#1a1aa0"},
       "encoding": {"x": {"field": "x", "type": "quantitative", "scale": {"type": "log", "domain": [1, 1000]}, "axis": null},
                    "y": {"field": "y", "type": "quantitative", "scale": {"domain": [0, 1.096], "nice": false}, "axis": null},
                    "text": {"field": "t"}}}
     ],
     "resolve": {"axis": {"x": "independent", "y": "independent"}}
    }
   ]
  },
  {
   "title": {"text": "B", "anchor": "start", "frame": "bounds", "fontSize": 22, "fontWeight": "bold", "color": "#000", "offset": -4, "dx": 6},
   "width": 419, "height": 202,
   "layer": [
    {"data": {"name": "kd"}, "transform": [{"filter": "datum.e > 0"}],
     "mark": {"type": "errorbar", "ticks": {"size": 8}, "thickness": 1.5},
     "encoding": {"x": {"field": "mg", "type": "quantitative", "scale": {"domain": [0, 11], "nice": false}, "axis": null},
                  "y": {"field": "kd", "type": "quantitative", "scale": {"domain": [-95, 1610], "nice": false}, "axis": null},
                  "yError": {"field": "e"},
                  "color": {"field": "c", "type": "nominal", "scale": {"domain": ["A", "preRS", "RS"], "range": ["#22cc22", "#1aa3f0", "#191996"]}, "legend": null}}},
    {"data": {"values": [{}]}, "mark": {"type": "rule", "color": "#000", "strokeWidth": 1.5},
     "encoding": {"y": {"datum": 0, "type": "quantitative", "scale": {"domain": [-95, 1610], "nice": false}, "axis": null}}},
    {"data": {"name": "kd"},
     "mark": {"type": "line", "strokeWidth": 2.5},
     "encoding": {"x": {"field": "mg", "type": "quantitative", "scale": {"domain": [0, 11], "nice": false},
                        "axis": {"orient": "top", "values": [0,1,2,3,4,5,6,7,8,9,10], "tickSize": {"condition": {"test": "datum.value % 2 == 0", "value": -8}, "value": -4}, "labels": false, "title": null}},
                  "y": {"field": "kd", "type": "quantitative", "scale": {"domain": [-95, 1610], "nice": false},
                        "axis": {"orient": "right", "values": [0, 250, 500, 750, 1000, 1250, 1500], "tickSize": {"condition": {"test": "datum.value % 500 == 0", "value": -8}, "value": -4}, "labels": false, "title": null}},
                  "color": {"field": "c", "type": "nominal", "scale": {"domain": ["A", "preRS", "RS"], "range": ["#22cc22", "#1aa3f0", "#191996"]}, "legend": null}}},
    {"data": {"name": "kd"},
     "mark": {"type": "circle", "size": 55, "opacity": 1},
     "encoding": {"x": {"field": "mg", "type": "quantitative", "scale": {"domain": [0, 11], "nice": false},
                        "axis": {"orient": "bottom", "values": [0,1,2,3,4,5,6,7,8,9,10], "tickSize": {"condition": {"test": "datum.value % 2 == 0", "value": -8}, "value": -4}, "labelExpr": "datum.value % 2 == 0 ? format(datum.value, 'd') : ''", "labelPadding": 14, "title": "[Mg²⁺] / mM", "titleFontSize": 21, "titlePadding": 8}},
                  "y": {"field": "kd", "type": "quantitative", "scale": {"domain": [-95, 1610], "nice": false},
                        "axis": {"orient": "left", "values": [0, 250, 500, 750, 1000, 1250, 1500], "tickSize": {"condition": {"test": "datum.value % 500 == 0", "value": -8}, "value": -4}, "labelExpr": "datum.value % 500 == 0 ? format(datum.value, 'd') : ''", "labelPadding": 14, "title": "Kᴅ / nM", "titleFontSize": 22, "titlePadding": 2}},
                  "color": {"field": "c", "type": "nominal", "scale": {"domain": ["A", "preRS", "RS"], "range": ["#22cc22", "#1aa3f0", "#191996"]}, "legend": null}}},
    {"data": {"values": [{"t": "A", "c": "A", "mg": 1.25, "kd": 1090}, {"t": "preRS", "c": "preRS", "mg": 8.37, "kd": 487}, {"t": "RS", "c": "RS", "mg": 10.0, "kd": 394}]},
     "mark": {"type": "text", "fontSize": 23, "fontWeight": "bold"},
     "encoding": {"x": {"field": "mg", "type": "quantitative", "scale": {"domain": [0, 11], "nice": false}, "axis": null},
                  "y": {"field": "kd", "type": "quantitative", "scale": {"domain": [-95, 1610], "nice": false}, "axis": null},
                  "text": {"field": "t"},
                  "color": {"field": "c", "type": "nominal", "scale": {"domain": ["A", "preRS", "RS"], "range": ["#22cc22", "#1aa3f0", "#191996"]}, "legend": null}}}
   ],
   "resolve": {"axis": {"x": "independent", "y": "independent"}}
  }
 ],
 "spacing": 0,
 "resolve": {"scale": {"color": "independent"}, "legend": {"color": "independent"}},
 "config": {
  "font": "Liberation Sans",
  "view": {"stroke": "#000", "strokeWidth": 2},
  "axis": {"grid": false, "domain": false, "labelFontSize": 20, "titleFontWeight": "normal", "labelColor": "#000", "titleColor": "#000", "tickColor": "#000", "tickWidth": 1.5, "labelFlush": false, "labelOverlap": false}
 }
}
